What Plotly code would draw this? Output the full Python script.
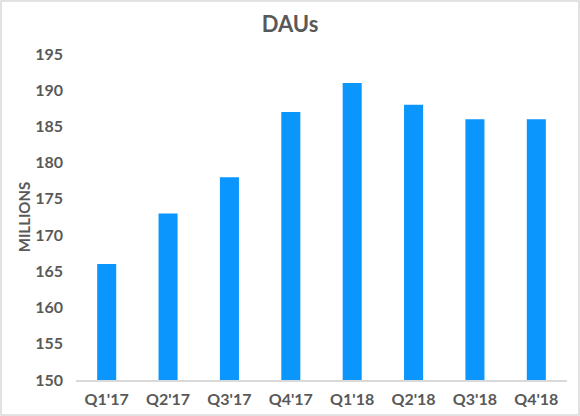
import plotly.graph_objects as go

# quarterly daily active users, millions
quarters = ["Q1'17", "Q2'17", "Q3'17", "Q4'17", "Q1'18", "Q2'18", "Q3'18", "Q4'18"]
daus = [166, 173, 178, 187, 191, 188, 186, 186]
y_ticks = [150, 155, 160, 165, 170, 175, 180, 185, 190, 195]

text_grey = '#595959'
bar_blue = '#0a96fc'

W, H = 580, 416
ml, mr, mt, mb = 76, 13, 54, 36
pw, ph = W - ml - mr, H - mt - mb

fig = go.Figure(go.Bar(
    x=quarters,
    y=daus,
    marker=dict(color=bar_blue, line=dict(width=0)),
))

fig.update_layout(
    width=W, height=H,
    margin=dict(l=ml, r=mr, t=mt, b=mb, autoexpand=False),
    paper_bgcolor='white',
    plot_bgcolor='white',
    bargap=0.69,
    showlegend=False,
    font=dict(family='Lato, sans-serif', color=text_grey, size=16, weight='bold'),
    title=dict(text='DAUs', x=0.5, xanchor='center', y=1 - 24 / H, yanchor='middle',
               font=dict(size=22, color=text_grey, weight='bold')),
    xaxis=dict(showgrid=False, showline=True, linecolor='#d9d9d9', linewidth=2,
               ticks='', tickfont=dict(size=16), ticklabelstandoff=4, automargin=False),
    yaxis=dict(range=[150, 195], tickvals=y_ticks, showgrid=False, zeroline=False,
               showline=False, ticks='', tickfont=dict(size=16), ticklabelstandoff=12,
               automargin=False,
               title=dict(text='MILLIONS', font=dict(size=15, weight='bold'), standoff=0)),
)

# thin grey frame around the whole chart
fig.add_shape(type='rect', xref='paper', yref='paper',
              x0=(1 - ml) / pw, x1=(W - 1 - ml) / pw,
              y0=(1 - mb) / ph, y1=(H - 1 - mb) / ph,
              line=dict(color='#d9d9d9', width=1.5), layer='below')

# drop the default page margin so the figure fills the window
fig.write_html("out.html", config={'displayModeBar': False},
               post_script="document.body.style.margin='0';"
                           "document.body.style.overflow='hidden';")
